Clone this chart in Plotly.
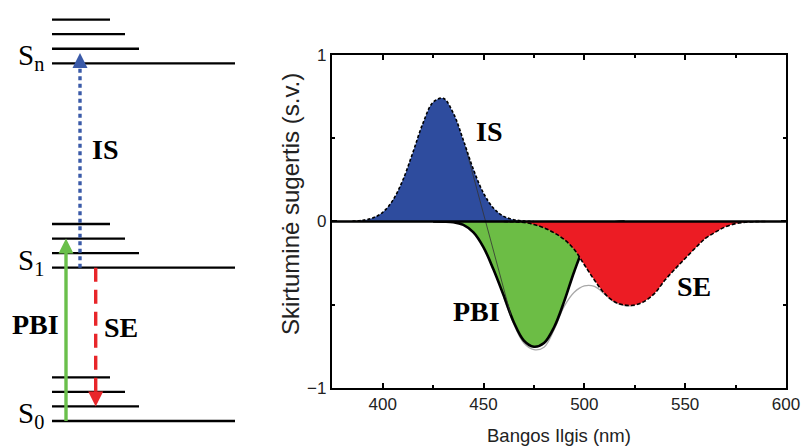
import plotly.graph_objects as go

# ---------------- data: transient absorption spectrum ----------------
IS_x = [385, 390, 395, 400, 405, 410, 415, 420, 425, 430, 435, 440, 445, 450, 455, 460, 465, 470, 475]
IS_y = [0.002, 0.007, 0.021, 0.055, 0.127, 0.249, 0.416, 0.591, 0.716, 0.740, 0.651, 0.488, 0.312, 0.170, 0.079, 0.031, 0.011, 0.003, 0.0]

PBI_x = [425, 430, 435, 440, 445, 450, 455, 460, 465, 470, 475, 480, 485, 490, 495, 500, 505, 510, 515, 520]
PBI_y = [0.0, -0.001, -0.004, -0.020, -0.065, -0.155, -0.290, -0.445, -0.605, -0.715, -0.752, -0.730, -0.635, -0.480, -0.300, -0.150, -0.060, -0.020, -0.005, 0.0]

SE_x = [460, 465, 470, 475, 480, 485, 490, 495, 500, 505, 510, 515, 520, 525, 530, 535, 540, 545, 550, 555, 560, 565, 570, 575, 580, 585, 590]
SE_y = [0.0, -0.002, -0.006, -0.018, -0.038, -0.068, -0.108, -0.168, -0.260, -0.352, -0.432, -0.482, -0.502, -0.502, -0.478, -0.430, -0.352, -0.285, -0.222, -0.160, -0.102, -0.064, -0.032, -0.013, -0.004, -0.001, 0.0]

TOTAL_x = [460, 465, 470, 475, 480, 485, 490, 495, 500, 505, 510, 515, 520, 525]
TOTAL_y = [-0.455, -0.615, -0.730, -0.770, -0.755, -0.650, -0.510, -0.425, -0.387, -0.390, -0.435, -0.485, -0.505, -0.505]

STRAY_x = [441, 463.5]
STRAY_y = [0.45, -0.56]

x_ticks = [400, 450, 500, 550, 600]
y_ticks = [-1, 0, 1]
x_range = [374.7, 600]
y_range = [-1, 1]

band_labels = ["IS", "PBI", "SE"]
band_label_x = [452.5, 446.5, 554.5]
band_label_y = [0.54, -0.54, -0.39]

# ---------------- data: energy level diagram ----------------
level_names = ["S<sub>0</sub>", "S<sub>1</sub>", "S<sub>n</sub>"]
level_E = [0.0, 1.0, 2.333]
vib_offsets = [0.095, 0.19, 0.285]

trans_names = ["PBI", "IS", "SE"]
trans_from = [0.0, 1.0, 1.0]
trans_to = [1.19, 2.40, 0.095]

# ---------------- styles ----------------
BLUE = "#2e4c9e"
GREEN = "#6cbd45"
RED = "#ec1c24"
A_BLUE = "#3a5aa8"
A_GREEN = "#6abf4b"
A_RED = "#e8262a"
SERIF = "Liberation Serif, Times New Roman, serif"
SANS = "Liberation Sans, Arial, sans-serif"

fig = go.Figure()

# green PBI fill
fig.add_trace(go.Scatter(x=PBI_x, y=PBI_y, mode="lines", line=dict(width=0, shape="spline"),
                         fill="tozeroy", fillcolor=GREEN, hoverinfo="skip", showlegend=False))
# gray total
fig.add_trace(go.Scatter(x=TOTAL_x, y=TOTAL_y, mode="lines", line=dict(color="#a8a8a8", width=1.3, shape="spline"),
                         hoverinfo="skip", showlegend=False))
# PBI outline
fig.add_trace(go.Scatter(x=PBI_x, y=PBI_y, mode="lines", line=dict(color="black", width=2.6, shape="spline"),
                         hoverinfo="skip", showlegend=False))
# red SE fill
fig.add_trace(go.Scatter(x=SE_x, y=SE_y, mode="lines", line=dict(width=0, shape="spline"),
                         fill="tozeroy", fillcolor=RED, hoverinfo="skip", showlegend=False))
# blue IS fill
fig.add_trace(go.Scatter(x=IS_x, y=IS_y, mode="lines", line=dict(width=0, shape="spline"),
                         fill="tozeroy", fillcolor=BLUE, hoverinfo="skip", showlegend=False))
# stray thin line
fig.add_trace(go.Scatter(x=STRAY_x, y=STRAY_y, mode="lines", line=dict(color="#333333", width=0.8),
                         hoverinfo="skip", showlegend=False))
# dashed outlines
fig.add_trace(go.Scatter(x=IS_x, y=IS_y, mode="lines", line=dict(color="black", width=1.6, dash="3px,2px", shape="spline"),
                         hoverinfo="skip", showlegend=False))
fig.add_trace(go.Scatter(x=SE_x, y=SE_y, mode="lines", line=dict(color="black", width=1.6, dash="4px,2px", shape="spline"),
                         hoverinfo="skip", showlegend=False))
# zero baseline
fig.add_trace(go.Scatter(x=x_range, y=[0, 0], mode="lines", line=dict(color="black", width=2.4),
                         hoverinfo="skip", showlegend=False))

for name, lx, ly in zip(band_labels, band_label_x, band_label_y):
    fig.add_annotation(x=lx, y=ly, xref="x", yref="y", text="<b>%s</b>" % name, showarrow=False,
                       xanchor="center", yanchor="middle",
                       font=dict(family=SERIF, size=28, color="black"))

# ---------------- energy diagram on x2/y2 ----------------
X0 = 52
X_GROUND_END = 235
VIB_END = [139, 125, 110]
lx, ly = [], []
for E in level_E:
    lx += [X0, X_GROUND_END, None]
    ly += [E, E, None]
    for off, xe in zip(vib_offsets, VIB_END):
        lx += [X0, xe, None]
        ly += [E + off, E + off, None]
fig.add_trace(go.Scatter(x=lx, y=ly, xaxis="x2", yaxis="y2", mode="lines",
                         line=dict(color="black", width=2.3), hoverinfo="skip", showlegend=False))

ARROW_X = {"PBI": 66, "IS": 80, "SE": 95.7}
ARROW_COL = {"PBI": A_GREEN, "IS": A_BLUE, "SE": A_RED}
ARROW_DASH = {"PBI": "solid", "IS": "4px,3.5px", "SE": "14px,8px"}
HEAD = 0.09
for name, e0, e1 in zip(trans_names, trans_from, trans_to):
    d = 1 if e1 > e0 else -1
    xa = ARROW_X[name]
    fig.add_trace(go.Scatter(x=[xa, xa], y=[e0, e1 - d * HEAD], xaxis="x2", yaxis="y2", mode="lines",
                             line=dict(color=ARROW_COL[name], width=3.4, dash=ARROW_DASH[name]),
                             hoverinfo="skip", showlegend=False))
    fig.add_annotation(x=xa, y=e1, ax=xa, ay=e1 - d * HEAD, xref="x2", yref="y2", axref="x2", ayref="y2",
                       text="", showarrow=True, arrowhead=2, arrowsize=1.0, arrowwidth=3,
                       arrowcolor=ARROW_COL[name], standoff=0)

for name, E in zip(level_names, level_E):
    fig.add_annotation(x=16, y=E, xref="x2", yref="y2", text=name, showarrow=False, xanchor="left",
                       yanchor="middle", yshift=6, font=dict(family=SERIF, size=29, color="black"))

DIAG_LABEL_POS = {"PBI": (35, 0.63), "IS": (105, 1.77), "SE": (120.5, 0.61)}
for name in trans_names:
    px_, py_ = DIAG_LABEL_POS[name]
    fig.add_annotation(x=px_, y=py_, xref="x2", yref="y2", text="<b>%s</b>" % name, showarrow=False,
                       xanchor="center", yanchor="middle",
                       font=dict(family=SERIF, size=28, color="black"))

# titles
fig.add_annotation(x=0.6966, y=0.0, xref="paper", yref="paper", text="Bangos Ilgis (nm)", showarrow=False,
                   xanchor="center", yanchor="bottom", borderpad=0,
                   font=dict(family=SANS, size=18.5, color="#222222"))
fig.add_annotation(x=0.3616, y=0.5436, xref="paper", yref="paper", text="Skirtuminė sugertis (s.v.)",
                   textangle=-90, showarrow=False, xanchor="center", yanchor="middle",
                   font=dict(family=SANS, size=24, color="#222222"))

fig.update_layout(
    width=802, height=447,
    margin=dict(l=0, r=0, t=0, b=0, autoexpand=False),
    paper_bgcolor="white", plot_bgcolor="white",
    showlegend=False,
    xaxis=dict(domain=[0.4136, 0.9800], range=x_range, tickvals=x_ticks, ticks="inside", ticklen=5,
               tickwidth=1.5, tickcolor="black", showline=True, linecolor="black", linewidth=1.8,
               mirror="ticks", showgrid=False, zeroline=False,
               minor=dict(dtick=25, tick0=400, ticks="inside", ticklen=3, tickwidth=1.5, tickcolor="black"),
               tickfont=dict(family=SANS, size=17, color="#222222"), anchor="y"),
    yaxis=dict(domain=[0.132, 0.877], range=y_range, tickvals=y_ticks, ticks="inside", ticklen=5,
               tickwidth=1.5, tickcolor="black", showline=True, linecolor="black", linewidth=1.8,
               mirror="ticks", showgrid=False, zeroline=False,
               minor=dict(dtick=0.5, tick0=0, ticks="inside", ticklen=3, tickwidth=1.5, tickcolor="black"),
               tickfont=dict(family=SANS, size=17, color="#222222"), anchor="x"),
    xaxis2=dict(domain=[0, 0.33], range=[0, 264.66], visible=False, anchor="y2"),
    yaxis2=dict(domain=[0, 1], range=[-0.1696, 2.746], visible=False, anchor="x2"),
)

fig.write_html("out.html", config={"displayModeBar": False},
               post_script="document.body.style.margin='0px';document.body.style.overflow='hidden';")
